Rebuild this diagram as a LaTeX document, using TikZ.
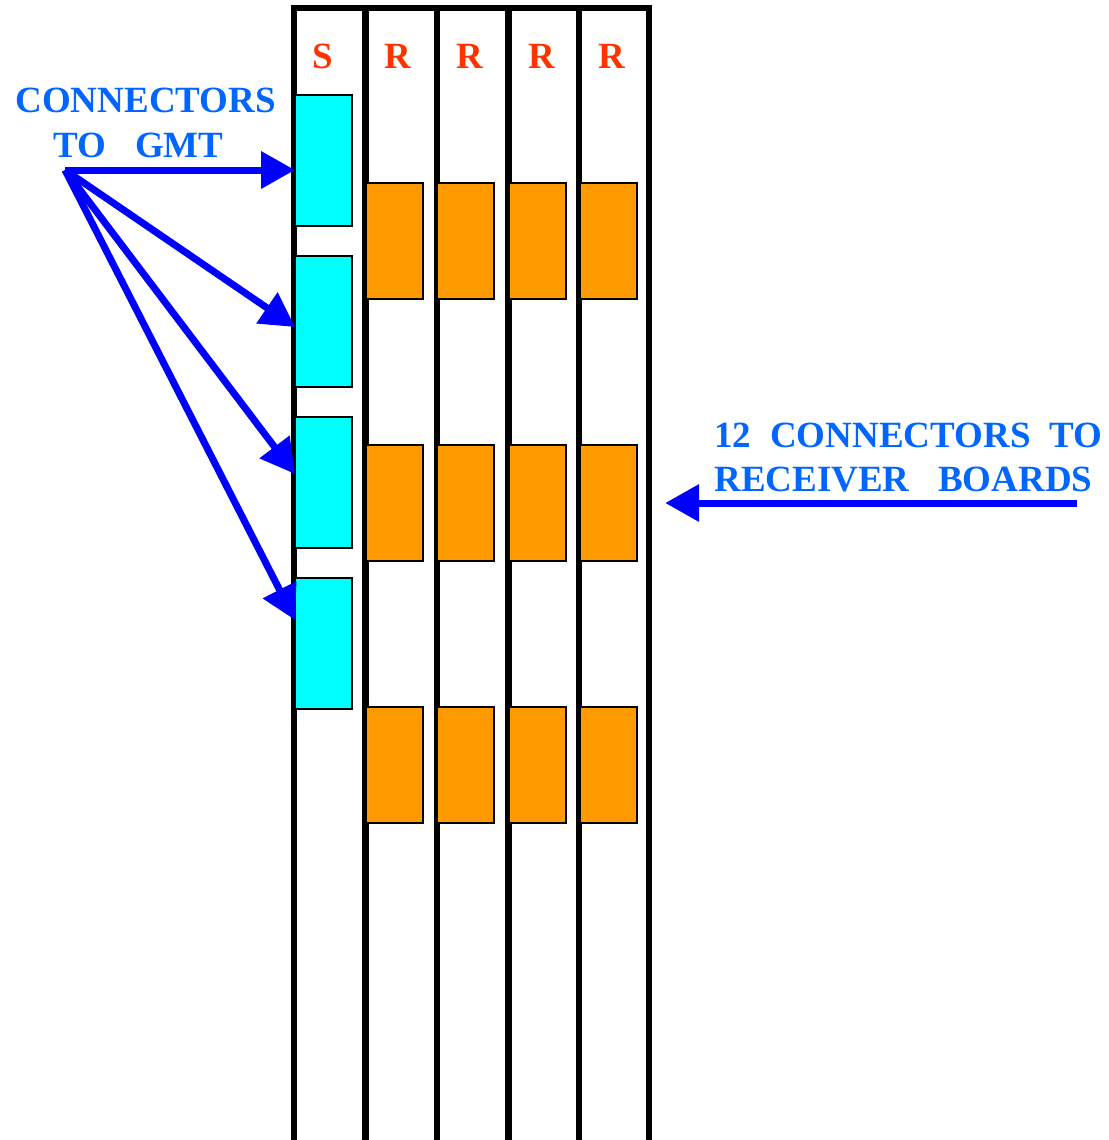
\documentclass[tikz,border=0pt]{standalone}
\usepackage{fontspec}
\setmainfont{Liberation Serif}
\usetikzlibrary{arrows.meta,positioning}

\definecolor{gmtcyan}{RGB}{0,255,255}
\definecolor{rcvorange}{RGB}{255,153,0}
\definecolor{slotred}{RGB}{255,51,0}
\definecolor{noteblue}{RGB}{0,102,255}
\definecolor{linkblue}{RGB}{0,0,255}

\begin{document}
\begin{tikzpicture}[
        x=0.5pt, y=-0.5pt,
        every node/.style={font=\fontsize{18.5}{22}\selectfont\bfseries},
        gmtbox/.style={draw, line width=1pt, fill=gmtcyan, inner sep=0pt, outer sep=0pt, minimum width=28.5pt, minimum height=65.5pt},
        rcvbox/.style={draw, line width=1pt, fill=rcvorange, inner sep=0pt, outer sep=0pt, minimum width=28.5pt, minimum height=58pt},
        slot/.style={line width=3.3pt},
        slotlabel/.style={text=slotred, anchor=base, inner sep=0pt},
        note/.style={text=noteblue, anchor=base west, inner sep=0pt},
        link/.style={draw=linkblue, line width=3.5pt, -{Triangle[length=17pt,width=18pt]}}
    ]

  \useasboundingbox (0,0) rectangle (1108,1140);

  % Crate slots
  \draw[slot] (294,1140) -- (294,8) -- (649,8) -- (649,1140);
  \draw[slot] (365.5,8) -- (365.5,1140);
  \draw[slot] (437,8) -- (437,1140);
  \draw[slot] (508.5,8) -- (508.5,1140);
  \draw[slot] (579,8) -- (579,1140);

  % Nodes
  \node[gmtbox] (c1) at (323.5,160.5) {};
  \node[gmtbox, below=15pt of c1] (c2) {};
  \node[gmtbox, below=15pt of c2] (c3) {};
  \node[gmtbox, below=15pt of c3] (c4) {};

  \node[rcvbox] (o11) at (394.5,241) {};
  \node[rcvbox, right=7.2pt of o11] (o12) {};
  \node[rcvbox, right=7.2pt of o12] (o13) {};
  \node[rcvbox, right=7.2pt of o13] (o14) {};

  \node[rcvbox, below=73pt of o11] (o21) {};
  \node[rcvbox, right=7.2pt of o21] (o22) {};
  \node[rcvbox, right=7.2pt of o22] (o23) {};
  \node[rcvbox, right=7.2pt of o23] (o24) {};

  \node[rcvbox, below=73pt of o21] (o31) {};
  \node[rcvbox, right=7.2pt of o31] (o32) {};
  \node[rcvbox, right=7.2pt of o32] (o33) {};
  \node[rcvbox, right=7.2pt of o33] (o34) {};

  \node[slotlabel] (sS) at (323,68) {S};
  \node[slotlabel] (sR1) at (398,68) {R};
  \node[slotlabel] (sR2) at (470,68) {R};
  \node[slotlabel] (sR3) at (542,68) {R};
  \node[slotlabel] (sR4) at (612,68) {R};

  \node[note] (gmt1) at (15,112) {CONNECTORS};
  \node[note] (gmt2) at (53,157) {TO\hspace{14.5pt}GMT};
  \node[note] (rx1) at (714,447) {\makebox[194pt][s]{12 CONNECTORS TO}};
  \node[note] (rx2) at (714,491) {\makebox[189pt][s]{RECEIVER BOARDS}};

  \coordinate (hub) at (65,170);
  \coordinate (rxtail) at (1077,503);

  \draw[link] (hub) -- ([yshift=-4.75pt]c1.west);
  \draw[link] (hub) -- ([yshift=-2.75pt]c2.west);
  \draw[link] (hub) -- ([yshift=4.25pt]c3.west);
  \draw[link] (hub) -- ([yshift=11.75pt]c4.west);
  \draw[link] (rxtail) -- ([xshift=14pt]o24.east);
\end{tikzpicture}
\end{document}
